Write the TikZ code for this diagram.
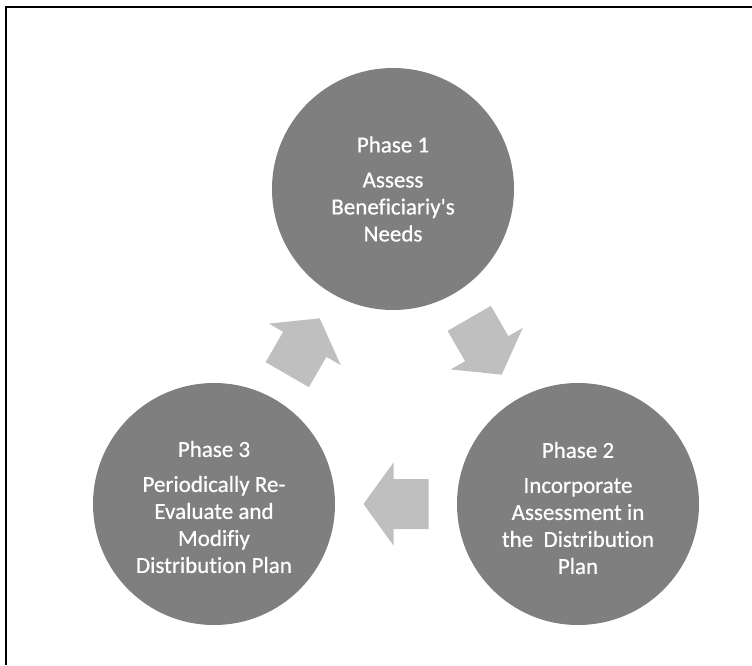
\documentclass[tikz,border=0pt]{standalone}
\usepackage{fontspec}
\setmainfont[Ligatures=NoCommon]{Carlito}
\newfontfamily\phasefont[Ligatures=NoCommon, FakeBold=0.6]{Carlito}
\usetikzlibrary{calc}
\definecolor{phasegray}{HTML}{7F7F7F}
\definecolor{arrowgray}{HTML}{BFBFBF}
\tikzset{
  phase/.style={circle, fill=phasegray, minimum size=242pt, inner sep=0pt},
  phasetext/.style={text=white, align=center, inner sep=0pt,
    font=\phasefont\fontsize{23}{27}\selectfont},
  frameline/.style={line width=2.3pt, line join=miter},
  blockarrow/.pic={
    \fill[arrowgray] (-32.5,-25) -- (2.5,-25) -- (2.5,-41.5) -- (32.5,0)
      -- (2.5,41.5) -- (2.5,25) -- (-32.5,25) -- cycle;
  }
}
\begin{document}
\begin{tikzpicture}[x=1pt, y=-1pt]
  \useasboundingbox (0,0) rectangle (752,665);
  % open frame: top and left edges only
  \draw[frameline] (6,665) -- (6,6.8) -- (752,6.8);

  % the three phases
  \node[phase] (p1) at (393,189) {};
  \node[phase] (p2) at (578,504) {};
  \node[phase] (p3) at (214,504) {};

  \node[phasetext] (t1) at ($(p1)+(0,0)$)
    {Phase 1\\[8pt]Assess\\Beneficiariy\textquotesingle s\\Needs};
  \node[phasetext] (t2) at ($(p2)+(0,4)$)
    {Phase 2\\[8pt]Incorporate\\Assessment in\\the\ \ Distribution\\Plan};
  \node[phasetext] (t3) at ($(p3)+(0,3)$)
    {Phase 3\\[8pt]Periodically Re-\\Evaluate and\\Modifiy\\Distribution Plan};

  % cycle arrows between the phases
  \pic[rotate=-60] at ($(p1)!0.5!(p2)$) {blockarrow};
  \pic[rotate=180] at ($(p2)!0.5!(p3)$) {blockarrow};
  \pic[rotate=60]  at ($(p3)!0.5!(p1)$) {blockarrow};
\end{tikzpicture}
\end{document}
